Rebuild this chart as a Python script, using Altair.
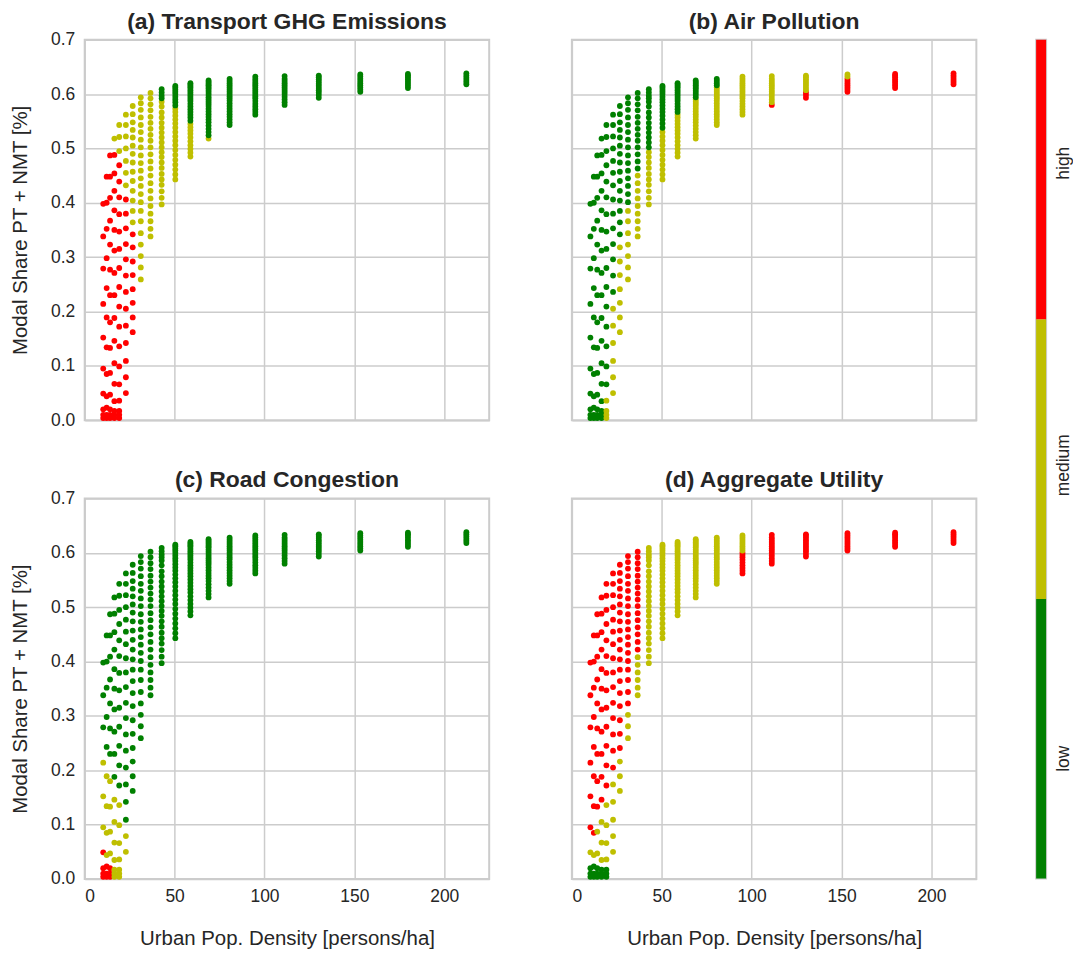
import altair as alt
import pandas as pd

# Urban population density levels (persons/ha), one column of points per level
DENSITY = [10.3, 12.2, 14.1, 16.5, 19.2, 22.9, 26.7, 31.2, 36.6, 42.8,
           50.4, 58.8, 68.9, 80.6, 94.9, 111.2, 130.2, 153.3, 179.8, 212.3]

# Modal share PT + NMT values read for each density column
SHARE_10 = [0.004, 0.010, 0.020, 0.049, 0.095, 0.152, 0.214, 0.279, 0.338, 0.398]
SHARE_12 = [0.004, 0.010, 0.023, 0.044, 0.085, 0.134, 0.189, 0.243, 0.298, 0.352, 0.400, 0.448]
SHARE_14 = [0.004, 0.010, 0.020, 0.047, 0.087, 0.133, 0.180, 0.230, 0.277, 0.323, 0.367, 0.409, 0.448, 0.487]
SHARE_16 = [0.004, 0.010, 0.017, 0.035, 0.067, 0.105, 0.146, 0.188, 0.230, 0.271, 0.312, 0.350, 0.386, 0.422,
            0.454, 0.488, 0.518]
SHARE_19 = [0.004, 0.010, 0.017, 0.036, 0.066, 0.099, 0.136, 0.172, 0.209, 0.245, 0.280, 0.315, 0.347, 0.379,
            0.410, 0.439, 0.469, 0.495, 0.521, 0.543]
SHARE_23 = [0.050, 0.079, 0.109, 0.142, 0.174, 0.205, 0.236, 0.266, 0.296, 0.324, 0.353, 0.380, 0.406, 0.432,
            0.455, 0.477, 0.500, 0.522, 0.543, 0.562]
SHARE_27 = [0.162, 0.189, 0.216, 0.241, 0.267, 0.292, 0.318, 0.342, 0.364, 0.385, 0.404, 0.422, 0.440, 0.457,
            0.474, 0.490, 0.505, 0.520, 0.534, 0.548, 0.563, 0.578]
SHARE_31 = [0.259, 0.281, 0.302, 0.323, 0.344, 0.366, 0.385, 0.401, 0.416, 0.431, 0.445, 0.459, 0.473, 0.487,
            0.502, 0.516, 0.530, 0.543, 0.557, 0.571, 0.583, 0.594]
SHARE_37 = [0.338, 0.352, 0.366, 0.380, 0.394, 0.408, 0.422, 0.436, 0.450, 0.463, 0.476, 0.489, 0.502, 0.514,
            0.525, 0.536, 0.547, 0.558, 0.570, 0.581, 0.592, 0.602]
SHARE_43 = [0.397, 0.409, 0.421, 0.433, 0.443, 0.453, 0.464, 0.474, 0.484, 0.493, 0.502, 0.511, 0.520, 0.529,
            0.538, 0.547, 0.557, 0.566, 0.577, 0.586, 0.592, 0.597, 0.603, 0.609]
SHARE_50 = [0.443, 0.452, 0.461, 0.470, 0.479, 0.488, 0.497, 0.506, 0.514, 0.522, 0.530, 0.538, 0.546, 0.553,
            0.560, 0.567, 0.573, 0.579, 0.585, 0.590, 0.595, 0.600, 0.604, 0.608, 0.612, 0.615]
SHARE_59 = [0.485, 0.492, 0.499, 0.506, 0.513, 0.520, 0.527, 0.533, 0.539, 0.545, 0.551, 0.557, 0.562, 0.567,
            0.572, 0.577, 0.582, 0.587, 0.591, 0.595, 0.599, 0.603, 0.607, 0.611, 0.614, 0.617, 0.620]
SHARE_69 = [0.518, 0.524, 0.530, 0.536, 0.542, 0.548, 0.553, 0.558, 0.563, 0.568, 0.573, 0.578, 0.582, 0.586,
            0.590, 0.594, 0.598, 0.602, 0.606, 0.610, 0.613, 0.616, 0.619, 0.622, 0.625]
SHARE_81 = [0.543, 0.548, 0.553, 0.558, 0.563, 0.568, 0.573, 0.578, 0.583, 0.588, 0.592, 0.596, 0.600, 0.604,
            0.608, 0.612, 0.616, 0.620, 0.624, 0.628]
SHARE_95 = [0.562, 0.567, 0.572, 0.577, 0.582, 0.587, 0.592, 0.596, 0.600, 0.604, 0.608, 0.612, 0.616, 0.620,
            0.624, 0.628, 0.632]
SHARE_111 = [0.580, 0.585, 0.590, 0.595, 0.600, 0.604, 0.608, 0.612, 0.616, 0.620, 0.624, 0.628, 0.633]
SHARE_130 = [0.593, 0.598, 0.603, 0.607, 0.611, 0.615, 0.619, 0.623, 0.627, 0.631, 0.634]
SHARE_153 = [0.604, 0.608, 0.612, 0.616, 0.620, 0.624, 0.628, 0.632, 0.636]
SHARE_180 = [0.611, 0.615, 0.619, 0.623, 0.627, 0.631, 0.634, 0.637]
SHARE_212 = [0.618, 0.622, 0.626, 0.630, 0.634, 0.638]

SHARE = [SHARE_10, SHARE_12, SHARE_14, SHARE_16, SHARE_19, SHARE_23, SHARE_27, SHARE_31, SHARE_37, SHARE_43,
         SHARE_50, SHARE_59, SHARE_69, SHARE_81, SHARE_95, SHARE_111, SHARE_130, SHARE_153, SHARE_180, SHARE_212]

# Impact level per column: list of [share from which level applies, level]
LOW, MED, HIGH = "low", "medium", "high"
LEVELS_A = [
    [[0, HIGH]], [[0, HIGH]], [[0, HIGH]],
    [[0, HIGH], [0.50, MED]], [[0, HIGH], [0.48, MED]], [[0, HIGH], [0.42, MED]], [[0, HIGH], [0.355, MED]],
    [[0, MED]], [[0, MED]],
    [[0, MED], [0.589, LOW]], [[0, MED], [0.579, LOW]], [[0, MED], [0.550, LOW]], [[0, MED], [0.521, LOW]],
    [[0, LOW]], [[0, LOW]], [[0, LOW]], [[0, LOW]], [[0, LOW]], [[0, LOW]], [[0, LOW]],
]
LEVELS_B = [
    [[0, LOW]], [[0, LOW]], [[0, LOW]], [[0, LOW]],
    [[0, MED], [0.05, LOW]], [[0, MED], [0.22, LOW]], [[0, MED], [0.33, LOW]], [[0, MED], [0.393, LOW]],
    [[0, MED], [0.457, LOW]], [[0, MED], [0.497, LOW]], [[0, MED], [0.534, LOW]], [[0, MED], [0.564, LOW]],
    [[0, MED], [0.592, LOW]], [[0, MED], [0.614, LOW]], [[0, MED]],
    [[0, HIGH], [0.582, MED]], [[0, HIGH], [0.606, MED]], [[0, HIGH], [0.629, MED]],
    [[0, HIGH]], [[0, HIGH]],
]
LEVELS_C = [
    [[0, HIGH], [0.07, MED], [0.25, LOW]], [[0, HIGH], [0.035, MED], [0.22, LOW]],
    [[0, HIGH], [0.035, MED], [0.20, LOW]],
    [[0, MED], [0.17, LOW]], [[0, MED], [0.155, LOW]], [[0, MED], [0.095, LOW]],
    [[0, LOW]], [[0, LOW]], [[0, LOW]], [[0, LOW]], [[0, LOW]], [[0, LOW]], [[0, LOW]],
    [[0, LOW]], [[0, LOW]], [[0, LOW]], [[0, LOW]], [[0, LOW]], [[0, LOW]], [[0, LOW]],
]
LEVELS_D = [
    [[0, LOW], [0.035, MED], [0.07, HIGH]], [[0, LOW], [0.035, MED], [0.065, HIGH]],
    [[0, LOW], [0.035, MED], [0.11, HIGH]], [[0, LOW], [0.028, MED], [0.125, HIGH]],
    [[0, LOW], [0.028, MED], [0.155, HIGH]],
    [[0, MED], [0.19, HIGH]], [[0, MED], [0.23, HIGH]], [[0, MED], [0.312, HIGH]], [[0, MED], [0.415, HIGH]],
    [[0, MED]], [[0, MED]], [[0, MED]], [[0, MED]], [[0, MED]],
    [[0, HIGH], [0.602, MED]],
    [[0, HIGH]], [[0, HIGH]], [[0, HIGH]], [[0, HIGH]], [[0, HIGH]],
]

PANEL_KEYS = ["a", "b", "c", "d"]
PANEL_TITLES = ["(a) Transport GHG Emissions", "(b) Air Pollution",
                "(c) Road Congestion", "(d) Aggregate Utility"]
PANEL_LEVELS = [LEVELS_A, LEVELS_B, LEVELS_C, LEVELS_D]

X_TICKS = [0, 50, 100, 150, 200]
Y_TICKS = [0.0, 0.1, 0.2, 0.3, 0.4, 0.5, 0.6, 0.7]
X_TITLE = "Urban Pop. Density [persons/ha]"
Y_TITLE = "Modal Share PT + NMT [%]"

LEVEL_NAMES = ["low", "medium", "high"]
LEVEL_COLORS = ["#008000", "#bfbf00", "#ff0000"]
CBAR_LO = [0, 1, 2]
CBAR_HI = [1, 2, 3]
CBAR_TICKS = [0.43, 1.48, 2.56]

FONT = "Liberation Sans"
TXT = "#262626"
TITLE_OFFSET = -3

rows = []
for key, levels in zip(PANEL_KEYS, PANEL_LEVELS):
    for i, dens in enumerate(DENSITY):
        for s in SHARE[i]:
            lvl = None
            for start, name in levels[i]:
                if s >= start:
                    lvl = name
            rows.append({"panel": key, "density": dens, "share": s, "level": lvl})
df = pd.DataFrame(rows)

color_scale = alt.Scale(domain=LEVEL_NAMES, range=LEVEL_COLORS)


def panel(idx, show_x, show_y):
    key = PANEL_KEYS[idx]
    if show_x:
        xaxis = alt.Axis(values=X_TICKS, title=X_TITLE, labelPadding=9, titlePadding=23)
    else:
        xaxis = alt.Axis(values=X_TICKS, title=None, labels=False)
    yaxis = alt.Axis(values=Y_TICKS, format=".1f", title=Y_TITLE, labelPadding=10, titlePadding=20,
                     labelOpacity=1 if show_y else 0, titleOpacity=1 if show_y else 0)
    return alt.Chart(df[df["panel"] == key]).mark_circle(size=34, opacity=1).encode(
        x=alt.X("density:Q", scale=alt.Scale(domain=[0, 225], nice=False), axis=xaxis),
        y=alt.Y("share:Q", scale=alt.Scale(domain=[0, 0.7], nice=False), axis=yaxis),
        color=alt.Color("level:N", scale=color_scale, legend=None),
    ).properties(width=406, height=382,
                 title=alt.TitleParams(PANEL_TITLES[idx], offset=TITLE_OFFSET))


pa = panel(0, False, True)
pb = panel(1, False, False)
pc = panel(2, True, True)
pdd = panel(3, True, False)

cb = pd.DataFrame({"level": LEVEL_NAMES, "lo": CBAR_LO, "hi": CBAR_HI})
cbar = alt.Chart(cb).mark_rect().encode(
    y=alt.Y("lo:Q", scale=alt.Scale(domain=[0, 3], nice=False),
            axis=alt.Axis(orient="right", values=CBAR_TICKS, grid=False, title=None,
                          labelExpr="datum.value < 1 ? 'low' : (datum.value < 2 ? 'medium' : 'high')",
                          labelAngle=270, labelAlign="center", labelBaseline="top", labelPadding=8)),
    y2="hi:Q",
    color=alt.Color("level:N", scale=color_scale, legend=None),
).properties(width=10, height=842, title=alt.TitleParams(" ", offset=TITLE_OFFSET))

left = alt.vconcat(pa, pc, spacing=38.5)
right = alt.vconcat(pb, pdd, spacing=38.5)
grid = alt.hconcat(left, right, spacing=6)
chart = alt.hconcat(grid, cbar, spacing=58).properties(
    padding={"left": 1, "top": 0, "right": 0, "bottom": 0}
).configure_view(
    stroke="#cccccc", strokeWidth=2
).configure_axis(
    grid=True, gridColor="#cccccc", gridWidth=1.5, domain=False, ticks=False,
    labelFont=FONT, labelFontSize=17.5, labelColor=TXT,
    titleFont=FONT, titleFontSize=20.5, titleFontWeight="normal", titleColor=TXT,
).configure_title(
    font=FONT, fontSize=23, fontWeight="bold", color=TXT, anchor="middle"
).configure_concat(spacing=0)

chart.save("out.html", embed_options={"renderer": "svg", "actions": False})
